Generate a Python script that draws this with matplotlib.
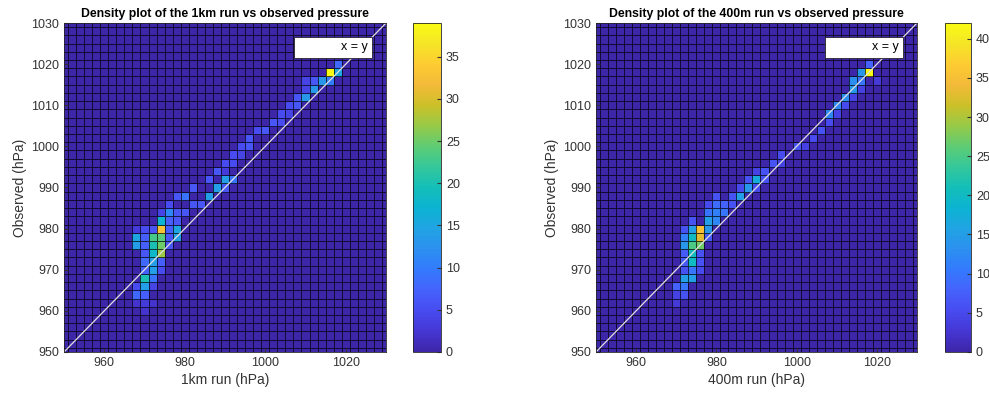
import numpy as np
import matplotlib
matplotlib.use('Agg')
import matplotlib.pyplot as plt
from matplotlib.colors import LinearSegmentedColormap

plt.rcParams['font.family'] = ['Liberation Sans', 'DejaVu Sans']

#Parula colormap (every 16th entry of the 256 step table)
parula_pts = [
    (0.2422, 0.1504, 0.6603), (0.2704, 0.2138, 0.8346), (0.2813, 0.2985, 0.9397),
    (0.2710, 0.3860, 0.9898), (0.2006, 0.4803, 0.9906), (0.1716, 0.5655, 0.9393),
    (0.1288, 0.6408, 0.8910), (0.0433, 0.7039, 0.8242), (0.0770, 0.7468, 0.7224),
    (0.2061, 0.7808, 0.6065), (0.3671, 0.8021, 0.4563), (0.5886, 0.7913, 0.2833),
    (0.7945, 0.7554, 0.1570), (0.9523, 0.7284, 0.2237), (0.9938, 0.7974, 0.1974),
    (0.9601, 0.8963, 0.1507), (0.9769, 0.9839, 0.0805)]
parula = LinearSegmentedColormap.from_list('parula', parula_pts)

#Bin edges (2 hPa tiles)
edges = np.arange(949, 1032, 2)

#1km run: (model, observed, count) for non-empty tiles
km1_x = [1018, 1016, 1018, 1010, 1012, 1014, 1016, 1010, 1012, 1008, 1010, 1006, 1008,
         1004, 1006, 1002, 1004, 998, 1000, 996, 994, 996, 992, 994, 990, 992, 988, 990,
         986, 990, 992, 982, 988, 990,
         978, 980, 986, 976, 982, 984, 974, 976, 978, 980, 974, 976, 978,
         968, 970, 972, 974, 976, 978, 968, 970, 972, 974, 976, 978,
         968, 970, 972, 974, 976, 970, 972, 974, 970, 972, 974, 970, 972, 974,
         970, 972, 968, 970, 972, 968, 970, 968, 970, 972, 970]
km1_y = [1020, 1018, 1018, 1016, 1016, 1016, 1016, 1014, 1014, 1012, 1012, 1010, 1010,
         1008, 1008, 1006, 1006, 1004, 1004, 1002, 1000, 1000, 998, 998, 996, 996, 994, 994,
         992, 992, 992, 990, 990, 990,
         988, 988, 988, 986, 986, 986, 984, 984, 984, 984, 982, 982, 982,
         980, 980, 980, 980, 980, 980, 978, 978, 978, 978, 978, 978,
         976, 976, 976, 976, 976, 974, 974, 974, 972, 972, 972, 970, 970, 970,
         968, 968, 966, 966, 966, 964, 964, 962, 962, 962, 960]
km1_n = [8, 39, 15, 4, 6, 13, 10, 4, 13, 6, 13, 5, 6,
         5, 4, 6, 5, 5, 6, 6, 5, 6, 5, 4, 5, 5, 6, 3,
         6, 14, 9, 6, 14, 6,
         6, 9, 14, 5, 6, 6, 4, 11, 6, 6, 17, 7, 6,
         3, 5, 6, 33, 7, 15, 15, 7, 23, 24, 6, 14,
         14, 7, 20, 25, 6, 6, 18, 27, 8, 14, 7, 7, 14, 5,
         20, 9, 5, 14, 4, 8, 7, 2, 3, 2, 2]

#400m run
m400_x = [1018, 1016, 1018, 1020, 1014, 1016, 1014, 1016, 1012, 1014, 1010, 1012, 1008, 1010,
          1008, 1006, 1004, 1000, 1002, 996, 994, 996, 992, 990, 988, 990, 992, 986, 988, 990,
          980, 984, 986,
          978, 980, 982, 984, 978, 980, 982, 974, 978, 980,
          972, 974, 976, 978, 972, 974, 976, 978, 972, 974, 976,
          972, 974, 976, 972, 974, 976, 972, 974, 976, 972, 974, 970, 972, 970, 972, 970]
m400_y = [1020, 1018, 1018, 1016, 1016, 1016, 1014, 1014, 1012, 1012, 1010, 1010, 1008, 1008,
          1006, 1004, 1002, 1000, 1000, 998, 996, 996, 994, 994, 992, 992, 992, 990, 990, 990,
          988, 988, 988,
          986, 986, 986, 986, 984, 984, 984, 982, 982, 982,
          980, 980, 980, 980, 978, 978, 978, 978, 976, 976, 976,
          974, 974, 974, 972, 972, 972, 970, 970, 970, 968, 968, 966, 966, 964, 964, 962]
m400_n = [8, 14, 42, 3, 13, 10, 14, 4, 13, 4, 12, 5, 12, 4,
          5, 6, 5, 6, 4, 5, 6, 4, 6, 4, 6, 17, 6, 5, 14, 5,
          6, 6, 15,
          5, 9, 8, 6, 10, 11, 10, 6, 15, 12,
          6, 15, 35, 14, 11, 20, 33, 7, 14, 25, 27,
          7, 20, 6, 7, 20, 6, 6, 10, 5, 15, 15, 8, 10, 4, 6, 3]

panels = [
    (km1_x, km1_y, km1_n, 'Density plot of the 1km run vs observed pressure', '1km run (hPa)',
     [0.0647, 0.1156, 0.3256, 0.8266], [0.4176, 0.1156, 0.0283, 0.8266]),
    (m400_x, m400_y, m400_n, 'Density plot of the 400m run vs observed pressure', '400m run (hPa)',
     [0.6026, 0.1156, 0.3246, 0.8266], [0.9555, 0.1156, 0.0263, 0.8266]),
]

fig = plt.figure(figsize=(9.89, 3.98), dpi=100)
for xs, ys, ns, title, xlabel, apos, cpos in panels:
    ax = fig.add_axes(apos)
    cax = fig.add_axes(cpos)
    counts, _, _ = np.histogram2d(xs, ys, bins=[edges, edges], weights=ns)
    mesh = ax.pcolormesh(edges, edges, counts.T, cmap=parula, vmin=0, vmax=max(ns),
                         edgecolors=(0, 0, 0, 0.7), linewidth=0.5)
    ax.plot([950, 1030], [950, 1030], color=(0.87, 0.87, 0.87), lw=0.9, label='x = y')
    ax.set_xlim(950, 1030)
    ax.set_ylim(950, 1030)
    ax.set_xticks([960, 980, 1000, 1020])
    ax.set_yticks(np.arange(950, 1031, 10))
    ax.tick_params(direction='in', labelsize=9, colors='#333333', length=3)
    for s in ax.spines.values():
        s.set_color('#262626')
        s.set_linewidth(0.6)
    ax.set_title(title, fontsize=8.8, fontweight='bold', pad=4)
    ax.set_xlabel(xlabel, fontsize=10, color='#333333', labelpad=3)
    ax.set_ylabel('Observed (hPa)', fontsize=10, color='#333333', labelpad=3)
    leg = ax.legend(loc='upper right', fontsize=9, handlelength=2.6, fancybox=False,
                    framealpha=1, borderaxespad=1.1, borderpad=0.35)
    leg.get_lines()[0].set_color('white')
    leg.get_frame().set_edgecolor('#262626')
    leg.get_frame().set_linewidth(0.6)
    cb = fig.colorbar(mesh, cax=cax)
    cb.set_ticks(np.arange(0, max(ns) + 1, 5))
    cb.ax.tick_params(direction='in', labelsize=9, colors='#333333', length=3)
    cb.outline.set_edgecolor('#262626')
    cb.outline.set_linewidth(0.6)

plt.savefig('out.png', dpi=100)
